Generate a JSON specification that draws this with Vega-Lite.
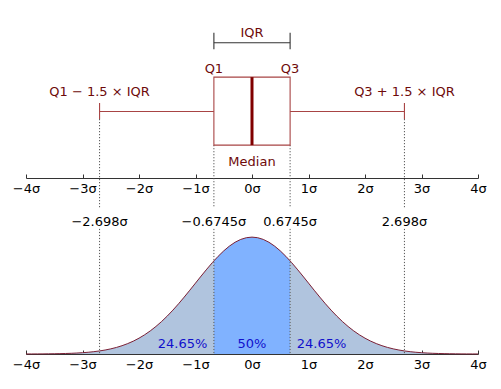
{
  "$schema": "https://vega.github.io/schema/vega-lite/v6.json",
  "width": 452,
  "height": 334,
  "autosize": {"type": "none"},
  "padding": {"left": 26, "right": 23, "top": 20, "bottom": 35},
  "background": "white",
  "config": {
    "view": {"stroke": null},
    "font": "DejaVu Sans",
    "text": {"font": "DejaVu Sans", "fontSize": 13}
  },
  "datasets": {
    "pdf": [
      {"x": -4.0, "y": 0.00013, "seg": "L"},
      {"x": -3.9, "y": 0.00020, "seg": "L"},
      {"x": -3.8, "y": 0.00029, "seg": "L"},
      {"x": -3.7, "y": 0.00042, "seg": "L"},
      {"x": -3.6, "y": 0.00061, "seg": "L"},
      {"x": -3.5, "y": 0.00087, "seg": "L"},
      {"x": -3.4, "y": 0.00123, "seg": "L"},
      {"x": -3.3, "y": 0.00172, "seg": "L"},
      {"x": -3.2, "y": 0.00238, "seg": "L"},
      {"x": -3.1, "y": 0.00327, "seg": "L"},
      {"x": -3.0, "y": 0.00443, "seg": "L"},
      {"x": -2.9, "y": 0.00595, "seg": "L"},
      {"x": -2.8, "y": 0.00792, "seg": "L"},
      {"x": -2.7, "y": 0.01042, "seg": "L"},
      {"x": -2.6, "y": 0.01358, "seg": "L"},
      {"x": -2.5, "y": 0.01753, "seg": "L"},
      {"x": -2.4, "y": 0.02239, "seg": "L"},
      {"x": -2.3, "y": 0.02833, "seg": "L"},
      {"x": -2.2, "y": 0.03547, "seg": "L"},
      {"x": -2.1, "y": 0.04398, "seg": "L"},
      {"x": -2.0, "y": 0.05399, "seg": "L"},
      {"x": -1.9, "y": 0.06562, "seg": "L"},
      {"x": -1.8, "y": 0.07895, "seg": "L"},
      {"x": -1.7, "y": 0.09405, "seg": "L"},
      {"x": -1.6, "y": 0.11092, "seg": "L"},
      {"x": -1.5, "y": 0.12952, "seg": "L"},
      {"x": -1.4, "y": 0.14973, "seg": "L"},
      {"x": -1.3, "y": 0.17137, "seg": "L"},
      {"x": -1.2, "y": 0.19419, "seg": "L"},
      {"x": -1.1, "y": 0.21785, "seg": "L"},
      {"x": -1.0, "y": 0.24197, "seg": "L"},
      {"x": -0.9, "y": 0.26609, "seg": "L"},
      {"x": -0.8, "y": 0.28969, "seg": "L"},
      {"x": -0.7, "y": 0.31225, "seg": "L"},
      {"x": -0.6745, "y": 0.31777, "seg": "L"},
      {"x": -0.6745, "y": 0.31777, "seg": "C"},
      {"x": -0.6, "y": 0.33322, "seg": "C"},
      {"x": -0.5, "y": 0.35207, "seg": "C"},
      {"x": -0.4, "y": 0.36827, "seg": "C"},
      {"x": -0.3, "y": 0.38139, "seg": "C"},
      {"x": -0.2, "y": 0.39104, "seg": "C"},
      {"x": -0.1, "y": 0.39695, "seg": "C"},
      {"x": 0.0, "y": 0.39894, "seg": "C"},
      {"x": 0.1, "y": 0.39695, "seg": "C"},
      {"x": 0.2, "y": 0.39104, "seg": "C"},
      {"x": 0.3, "y": 0.38139, "seg": "C"},
      {"x": 0.4, "y": 0.36827, "seg": "C"},
      {"x": 0.5, "y": 0.35207, "seg": "C"},
      {"x": 0.6, "y": 0.33322, "seg": "C"},
      {"x": 0.6745, "y": 0.31777, "seg": "C"},
      {"x": 0.6745, "y": 0.31777, "seg": "R"},
      {"x": 0.7, "y": 0.31225, "seg": "R"},
      {"x": 0.8, "y": 0.28969, "seg": "R"},
      {"x": 0.9, "y": 0.26609, "seg": "R"},
      {"x": 1.0, "y": 0.24197, "seg": "R"},
      {"x": 1.1, "y": 0.21785, "seg": "R"},
      {"x": 1.2, "y": 0.19419, "seg": "R"},
      {"x": 1.3, "y": 0.17137, "seg": "R"},
      {"x": 1.4, "y": 0.14973, "seg": "R"},
      {"x": 1.5, "y": 0.12952, "seg": "R"},
      {"x": 1.6, "y": 0.11092, "seg": "R"},
      {"x": 1.7, "y": 0.09405, "seg": "R"},
      {"x": 1.8, "y": 0.07895, "seg": "R"},
      {"x": 1.9, "y": 0.06562, "seg": "R"},
      {"x": 2.0, "y": 0.05399, "seg": "R"},
      {"x": 2.1, "y": 0.04398, "seg": "R"},
      {"x": 2.2, "y": 0.03547, "seg": "R"},
      {"x": 2.3, "y": 0.02833, "seg": "R"},
      {"x": 2.4, "y": 0.02239, "seg": "R"},
      {"x": 2.5, "y": 0.01753, "seg": "R"},
      {"x": 2.6, "y": 0.01358, "seg": "R"},
      {"x": 2.7, "y": 0.01042, "seg": "R"},
      {"x": 2.8, "y": 0.00792, "seg": "R"},
      {"x": 2.9, "y": 0.00595, "seg": "R"},
      {"x": 3.0, "y": 0.00443, "seg": "R"},
      {"x": 3.1, "y": 0.00327, "seg": "R"},
      {"x": 3.2, "y": 0.00238, "seg": "R"},
      {"x": 3.3, "y": 0.00172, "seg": "R"},
      {"x": 3.4, "y": 0.00123, "seg": "R"},
      {"x": 3.5, "y": 0.00087, "seg": "R"},
      {"x": 3.6, "y": 0.00061, "seg": "R"},
      {"x": 3.7, "y": 0.00042, "seg": "R"},
      {"x": 3.8, "y": 0.00029, "seg": "R"},
      {"x": 3.9, "y": 0.00020, "seg": "R"},
      {"x": 4.0, "y": 0.00013, "seg": "R"}
    ]
  },
  "resolve": {"axis": {"x": "independent"}},
  "layer": [
    {
      "data": {"name": "pdf"},
      "mark": {"type": "area", "opacity": 1},
      "encoding": {
        "x": {
          "field": "x", "type": "quantitative",
          "scale": {"domain": [-4, 4], "nice": false, "zero": false},
          "axis": {
            "orient": "bottom", "values": [-4, -3, -2, -1, 0, 1, 2, 3, 4],
            "labelExpr": "datum.label + 'σ'", "title": null, "grid": false,
            "tickSize": -4, "labelPadding": 8, "labelFontSize": 13,
            "labelFont": "DejaVu Sans", "labelColor": "#000000",
            "domainColor": "#333333", "tickColor": "#333333",
            "domainWidth": 1.2, "tickWidth": 1, "labelFlush": false
          }
        },
        "y": {
          "field": "y", "type": "quantitative", "stack": null,
          "scale": {"domain": [0, 1.14], "nice": false, "zero": true},
          "axis": null
        },
        "color": {
          "field": "seg", "type": "nominal",
          "scale": {"domain": ["L", "C", "R"], "range": ["#b0c4de", "#80b2ff", "#b0c4de"]},
          "legend": null
        }
      }
    },
    {
      "data": {"name": "pdf"},
      "mark": {"type": "line", "color": "#7b2035", "strokeWidth": 1},
      "encoding": {
        "x": {"field": "x", "type": "quantitative", "axis": null},
        "y": {"field": "y", "type": "quantitative"},
        "order": {"field": "x", "type": "quantitative"}
      }
    },
    {
      "data": {"values": [
        {"x": -2.698, "y1": 0.802, "y2": 0.498},
        {"x": -2.698, "y1": 0.427, "y2": 0},
        {"x": 2.698, "y1": 0.802, "y2": 0.498},
        {"x": 2.698, "y1": 0.427, "y2": 0},
        {"x": -0.6745, "y1": 0.713, "y2": 0.498},
        {"x": -0.6745, "y1": 0.427, "y2": 0},
        {"x": 0.6745, "y1": 0.713, "y2": 0.498},
        {"x": 0.6745, "y1": 0.427, "y2": 0}
      ]},
      "mark": {"type": "rule", "color": "#555555", "strokeWidth": 1, "strokeDash": [1.2, 1.8]},
      "encoding": {
        "x": {"field": "x", "type": "quantitative", "axis": null},
        "y": {"field": "y1", "type": "quantitative"},
        "y2": {"field": "y2"}
      }
    },
    {
      "data": {"values": [{"x1": -0.6745, "x2": 0.6745, "y1": 0.713, "y2": 0.945}]},
      "mark": {"type": "rect", "fill": "white", "stroke": "#a84444", "strokeWidth": 1.1},
      "encoding": {
        "x": {
          "field": "x1", "type": "quantitative",
          "axis": {
            "orient": "bottom", "offset": -176, "values": [-4, -3, -2, -1, 0, 1, 2, 3, 4],
            "labelExpr": "datum.label + 'σ'", "title": null, "grid": false,
            "tickSize": -4, "labelPadding": 8, "labelFontSize": 13,
            "labelFont": "DejaVu Sans", "labelColor": "#000000",
            "domainColor": "#333333", "tickColor": "#333333",
            "domainWidth": 1.2, "tickWidth": 1, "labelFlush": false
          }
        },
        "x2": {"field": "x2"},
        "y": {"field": "y1", "type": "quantitative"},
        "y2": {"field": "y2"}
      }
    },
    {
      "data": {"values": [
        {"x1": -2.698, "x2": -0.6745, "y1": 0.8276, "y2": 0.8276},
        {"x1": 0.6745, "x2": 2.698, "y1": 0.8276, "y2": 0.8276},
        {"x1": -2.698, "x2": -2.698, "y1": 0.802, "y2": 0.857},
        {"x1": 2.698, "x2": 2.698, "y1": 0.802, "y2": 0.857}
      ]},
      "mark": {"type": "rule", "color": "#a84444", "strokeWidth": 1.1},
      "encoding": {
        "x": {"field": "x1", "type": "quantitative", "axis": null},
        "x2": {"field": "x2"},
        "y": {"field": "y1", "type": "quantitative"},
        "y2": {"field": "y2"}
      }
    },
    {
      "data": {"values": [{"x": 0, "y1": 0.713, "y2": 0.945}]},
      "mark": {"type": "rule", "color": "#800000", "strokeWidth": 3},
      "encoding": {
        "x": {"field": "x", "type": "quantitative", "axis": null},
        "y": {"field": "y1", "type": "quantitative"},
        "y2": {"field": "y2"}
      }
    },
    {
      "data": {"values": [
        {"x1": -0.6745, "x2": 0.6745, "y1": 1.0625, "y2": 1.0625},
        {"x1": -0.6745, "x2": -0.6745, "y1": 1.040, "y2": 1.0966},
        {"x1": 0.6745, "x2": 0.6745, "y1": 1.040, "y2": 1.0966}
      ]},
      "mark": {"type": "rule", "color": "#333333", "strokeWidth": 1.1},
      "encoding": {
        "x": {"field": "x1", "type": "quantitative", "axis": null},
        "x2": {"field": "x2"},
        "y": {"field": "y1", "type": "quantitative"},
        "y2": {"field": "y2"}
      }
    },
    {
      "data": {"values": [
        {"x": 0, "y": 1.082, "t": "IQR"},
        {"x": -0.6745, "y": 0.959, "t": "Q1"},
        {"x": 0.6745, "y": 0.959, "t": "Q3"},
        {"x": -2.698, "y": 0.8805, "t": "Q1 − 1.5 × IQR"},
        {"x": 2.698, "y": 0.8805, "t": "Q3 + 1.5 × IQR"},
        {"x": 0, "y": 0.6416, "t": "Median"}
      ]},
      "mark": {"type": "text", "color": "#6e0a0a", "align": "center", "baseline": "alphabetic", "fontSize": 13},
      "encoding": {
        "x": {"field": "x", "type": "quantitative", "axis": null},
        "y": {"field": "y", "type": "quantitative"},
        "text": {"field": "t"}
      }
    },
    {
      "data": {"values": [
        {"x": -2.698, "y": 0.437, "t": "−2.698σ"},
        {"x": -0.6745, "y": 0.437, "t": "−0.6745σ"},
        {"x": 0.6745, "y": 0.437, "t": "0.6745σ"},
        {"x": 2.698, "y": 0.437, "t": "2.698σ"}
      ]},
      "mark": {"type": "text", "color": "#000000", "align": "center", "baseline": "alphabetic", "fontSize": 13},
      "encoding": {
        "x": {"field": "x", "type": "quantitative", "axis": null},
        "y": {"field": "y", "type": "quantitative"},
        "text": {"field": "t"}
      }
    },
    {
      "data": {"values": [
        {"x": -1.23, "y": 0.0205, "t": "24.65%"},
        {"x": 0, "y": 0.0205, "t": "50%"},
        {"x": 1.23, "y": 0.0205, "t": "24.65%"}
      ]},
      "mark": {"type": "text", "color": "#1010cc", "align": "center", "baseline": "alphabetic", "fontSize": 13},
      "encoding": {
        "x": {"field": "x", "type": "quantitative", "axis": null},
        "y": {"field": "y", "type": "quantitative"},
        "text": {"field": "t"}
      }
    }
  ]
}
